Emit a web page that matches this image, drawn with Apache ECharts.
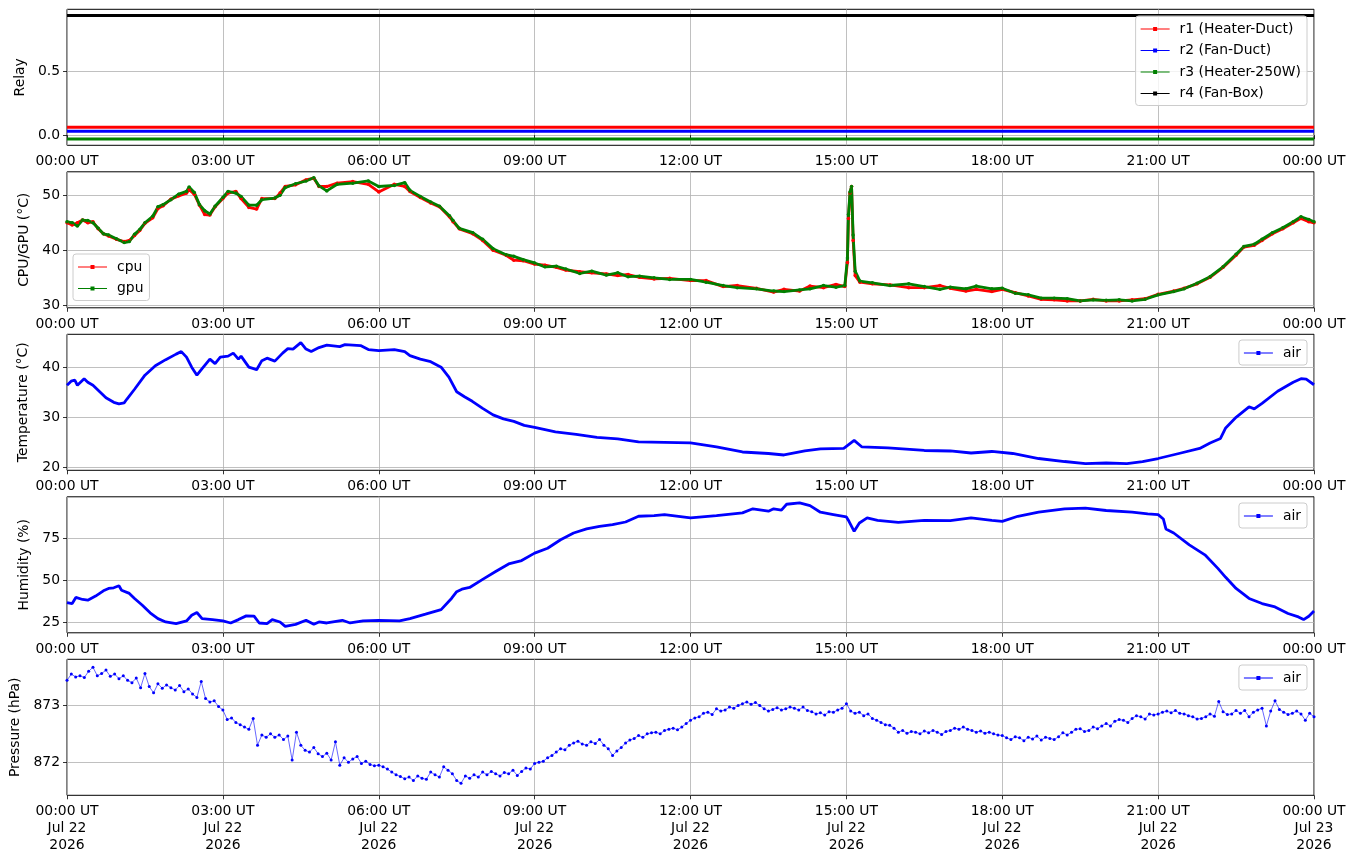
<!DOCTYPE html>
<html>
<head>
<meta charset="utf-8">
<title>Sensor log</title>
<script src="https://cdn.jsdelivr.net/npm/echarts@6/dist/echarts.min.js"></script>
<style>
html, body { margin: 0; padding: 0; background: #fff; }
#chart { width: 1355px; height: 861px; }
</style>
</head>
<body>
<div id="chart"></div>
<script>
// ---- data (hours since 00:00 UT, Jul 22 2026) ----
var relayHours = [0, 24];
var r1 = [0.0625, 0.0625];
var r2 = [0.03125, 0.03125];
var r3 = [-0.03125, -0.03125];
var r4 = [0.9375, 0.9375];

var cpuHours = [0.0,0.1,0.2,0.3,0.4,0.5,0.6,0.7,0.8,0.95,1.1,1.2,1.3,1.4,1.5,1.65,1.75,1.85,2.0,2.15,2.3,2.35,2.45,2.55,2.65,2.75,2.85,3.0,3.1,3.25,3.35,3.5,3.65,3.75,4.0,4.1,4.2,4.4,4.6,4.75,4.85,5.0,5.2,5.5,5.8,6.0,6.3,6.5,6.6,6.8,7.0,7.17,7.36,7.43,7.55,7.81,8.0,8.2,8.45,8.6,8.78,9.0,9.2,9.42,9.6,9.87,10.1,10.38,10.6,10.8,11.02,11.3,11.6,12.0,12.3,12.63,12.9,13.27,13.6,13.8,14.1,14.3,14.56,14.8,14.97,15.02,15.04,15.07,15.1,15.13,15.17,15.26,15.5,15.84,16.2,16.5,16.8,17.0,17.3,17.5,17.8,18.0,18.25,18.5,18.75,19.0,19.25,19.5,19.75,20.0,20.25,20.5,20.75,21.0,21.3,21.5,21.75,22.0,22.25,22.5,22.65,22.85,23.0,23.2,23.4,23.6,23.75,23.9,24.0];
var cpu = [45.0,44.6,45.0,45.5,45.0,45.2,43.9,43.0,42.6,42.0,41.6,41.8,42.7,43.6,44.9,45.9,47.6,48.1,49.3,49.9,50.4,51.0,50.2,48.2,46.5,46.4,47.9,49.4,50.4,50.7,49.4,47.8,47.5,49.4,49.4,50.4,51.6,51.9,52.8,53.1,51.6,51.6,52.2,52.5,52.0,50.6,52.0,51.6,50.7,49.6,48.6,47.9,46.1,45.2,43.9,43.0,41.8,40.0,39.1,38.2,38.1,37.5,37.3,36.9,36.4,36.1,35.9,35.7,35.4,35.6,35.1,34.8,34.9,34.5,34.5,33.4,33.6,33.1,32.4,32.9,32.6,33.5,33.2,33.8,33.4,37.8,45.8,50.4,51.6,41.8,35.4,34.2,33.9,33.7,33.2,33.2,33.6,33.1,32.6,32.9,32.5,32.9,32.3,31.7,31.1,31.0,30.8,30.8,31.1,30.8,30.8,31.0,31.2,32.0,32.6,33.1,33.9,35.1,36.9,39.1,40.6,40.9,41.8,43.0,43.9,45.0,45.8,45.2,45.0];
var gpu = [45.2,45.0,44.4,45.5,45.4,45.0,44.0,43.0,42.8,42.1,41.4,41.6,42.9,43.8,45.0,46.2,47.9,48.3,49.2,50.2,50.7,51.5,50.5,48.3,47.2,46.6,48.0,49.6,50.7,50.4,49.8,48.2,48.2,49.2,49.5,50.0,51.4,52.1,52.6,53.2,51.7,50.8,52.0,52.2,52.6,51.6,51.8,52.3,50.9,49.8,48.8,48.0,46.3,45.4,44.0,43.2,42.0,40.3,39.2,38.9,38.3,37.7,37.0,37.1,36.6,35.8,36.2,35.5,35.9,35.2,35.3,35.0,34.7,34.7,34.2,33.6,33.2,33.0,32.6,32.5,32.8,33.0,33.6,33.3,33.6,38.6,46.5,50.6,51.6,42.8,36.2,34.4,34.1,33.6,33.9,33.4,32.9,33.3,33.0,33.5,33.0,33.1,32.2,31.9,31.3,31.3,31.2,30.8,31.0,30.9,31.0,30.8,31.1,31.9,32.5,33.0,34.0,35.2,37.0,39.3,40.7,41.1,42.0,43.2,44.1,45.2,46.1,45.6,45.2];

var tempHours = [0.0,0.08,0.15,0.2,0.33,0.4,0.5,0.6,0.75,0.9,1.0,1.1,1.15,1.3,1.5,1.7,1.9,2.1,2.2,2.3,2.4,2.5,2.6,2.75,2.85,2.95,3.1,3.2,3.3,3.35,3.5,3.65,3.75,3.85,4.0,4.15,4.25,4.35,4.5,4.6,4.7,4.85,5.0,5.25,5.35,5.5,5.65,5.8,6.0,6.3,6.5,6.6,6.8,7.0,7.2,7.35,7.5,7.65,7.8,8.0,8.2,8.4,8.6,8.8,9.0,9.4,9.8,10.2,10.6,11.0,11.5,12.0,12.5,13.0,13.5,13.8,14.2,14.5,14.95,15.15,15.3,15.8,16.5,17.0,17.4,17.8,18.2,18.7,19.2,19.6,20.0,20.4,20.7,21.0,21.4,21.8,22.0,22.2,22.3,22.5,22.75,22.85,23.0,23.3,23.6,23.75,23.85,24.0];
var tempAir = [36.4,37.2,37.4,36.4,37.7,37.0,36.4,35.4,33.9,33.0,32.7,32.9,33.6,35.6,38.4,40.3,41.5,42.6,43.1,42.0,40.0,38.4,39.7,41.6,40.7,42.0,42.2,42.8,41.6,42.2,40.0,39.5,41.3,41.8,41.2,42.8,43.7,43.6,44.9,43.6,43.1,43.9,44.4,44.1,44.5,44.4,44.3,43.5,43.3,43.5,43.1,42.3,41.6,41.1,40.0,38.0,35.1,34.1,33.2,31.8,30.5,29.7,29.2,28.4,28.0,27.1,26.6,26.0,25.7,25.1,25.0,24.9,24.1,23.1,22.8,22.5,23.3,23.7,23.8,25.4,24.1,23.9,23.4,23.3,22.9,23.2,22.8,21.8,21.2,20.8,20.9,20.8,21.2,21.8,22.8,23.8,24.9,25.8,27.9,30.0,32.1,31.7,32.8,35.2,37.0,37.7,37.6,36.5];

var humHours = [0.0,0.1,0.17,0.3,0.4,0.55,0.7,0.8,0.9,1.0,1.05,1.2,1.3,1.45,1.6,1.75,1.9,2.1,2.3,2.4,2.5,2.6,2.8,3.0,3.15,3.3,3.45,3.6,3.7,3.85,3.95,4.1,4.2,4.4,4.6,4.75,4.85,5.0,5.3,5.45,5.7,6.0,6.4,6.6,6.9,7.2,7.4,7.5,7.6,7.75,8.0,8.25,8.5,8.75,9.0,9.25,9.5,9.75,10.0,10.25,10.5,10.75,11.0,11.3,11.5,12.0,12.5,13.0,13.2,13.5,13.6,13.75,13.85,14.1,14.3,14.5,14.75,15.0,15.05,15.15,15.25,15.4,15.6,16.0,16.5,17.0,17.4,17.8,18.0,18.3,18.7,19.2,19.6,20.0,20.5,20.8,21.0,21.1,21.15,21.3,21.6,21.9,22.15,22.3,22.5,22.75,23.0,23.25,23.5,23.7,23.8,23.9,24.0];
var humAir = [36.9,36.3,39.9,38.7,38.3,40.7,43.8,45.2,45.6,46.8,44.2,42.3,39.3,35.3,30.8,27.4,25.4,24.4,26.0,29.4,31.0,27.4,26.8,26.0,24.8,26.8,29.0,28.8,24.8,24.4,26.8,25.4,22.8,24.0,26.4,24.0,25.4,24.8,26.4,24.8,26.0,26.4,26.0,27.4,30.0,32.7,39.3,43.3,44.8,45.8,50.6,55.2,59.7,61.7,66.1,69.0,74.0,78.0,80.4,81.9,82.9,84.5,87.9,88.3,88.9,86.9,88.3,89.9,92.3,90.9,92.3,91.5,95.0,95.8,94.2,90.3,88.9,87.5,84.9,79.0,83.9,86.9,85.5,84.3,85.5,85.3,86.9,85.5,84.9,87.9,90.3,92.3,92.7,91.3,90.3,89.3,88.9,86.3,80.4,78.0,71.0,65.1,57.1,51.8,45.2,39.3,36.3,34.3,30.4,28.4,26.8,28.8,31.9];

// pressure sampled every 5 minutes
var presMinutes = [
  0,5,10,15,20,25,30,35,40,45,50,55,
  60,65,70,75,80,85,90,95,100,105,110,115,
  120,125,130,135,140,145,150,155,160,165,170,175,
  180,185,190,195,200,205,210,215,220,225,230,235,
  240,245,250,255,260,265,270,275,280,285,290,295,
  300,305,310,315,320,325,330,335,340,345,350,355,
  360,365,370,375,380,385,390,395,400,405,410,415,
  420,425,430,435,440,445,450,455,460,465,470,475,
  480,485,490,495,500,505,510,515,520,525,530,535,
  540,545,550,555,560,565,570,575,580,585,590,595,
  600,605,610,615,620,625,630,635,640,645,650,655,
  660,665,670,675,680,685,690,695,700,705,710,715,
  720,725,730,735,740,745,750,755,760,765,770,775,
  780,785,790,795,800,805,810,815,820,825,830,835,
  840,845,850,855,860,865,870,875,880,885,890,895,
  900,905,910,915,920,925,930,935,940,945,950,955,
  960,965,970,975,980,985,990,995,1000,1005,1010,1015,
  1020,1025,1030,1035,1040,1045,1050,1055,1060,1065,1070,1075,
  1080,1085,1090,1095,1100,1105,1110,1115,1120,1125,1130,1135,
  1140,1145,1150,1155,1160,1165,1170,1175,1180,1185,1190,1195,
  1200,1205,1210,1215,1220,1225,1230,1235,1240,1245,1250,1255,
  1260,1265,1270,1275,1280,1285,1290,1295,1300,1305,1310,1315,
  1320,1325,1330,1335,1340,1345,1350,1355,1360,1365,1370,1375,
  1380,1385,1390,1395,1400,1405,1410,1415,1420,1425,1430,1435,
  1440];
var presAir = [
  873.44,873.55,873.50,873.52,873.49,873.60,873.67,873.52,873.56,873.62,873.51,873.55,
  873.47,873.52,873.44,873.40,873.48,873.31,873.56,873.33,873.22,873.38,873.30,873.36,
  873.31,873.27,873.35,873.24,873.29,873.20,873.14,873.42,873.12,873.06,873.08,872.98,
  872.92,872.75,872.78,872.70,872.66,872.62,872.58,872.77,872.30,872.48,872.44,872.50,
  872.44,872.48,872.40,872.46,872.04,872.53,872.30,872.21,872.18,872.26,872.15,872.10,
  872.16,872.04,872.36,871.95,872.08,872.00,872.06,872.10,871.98,872.02,871.96,871.94,
  871.95,871.92,871.88,871.83,871.78,871.75,871.71,871.74,871.68,871.76,871.72,871.70,
  871.83,871.78,871.74,871.92,871.86,871.80,871.68,871.63,871.76,871.72,871.78,871.74,
  871.83,871.78,871.84,871.80,871.76,871.82,871.80,871.86,871.77,871.84,871.90,871.88,
  871.98,872.00,872.02,872.08,872.12,872.18,872.24,872.22,872.30,872.34,872.37,872.32,
  872.30,872.36,872.33,872.40,872.30,872.24,872.12,872.20,872.26,872.34,872.39,872.42,
  872.47,872.44,872.50,872.52,872.53,872.50,872.56,872.58,872.60,872.57,872.62,872.68,
  872.74,872.78,872.80,872.86,872.88,872.84,872.94,872.90,872.92,872.97,872.95,873.00,
  873.03,873.06,873.02,873.05,873.00,872.94,872.90,872.93,872.96,872.92,872.94,872.97,
  872.95,872.92,872.97,872.91,872.89,872.85,872.87,872.83,872.89,872.88,872.92,872.95,
  873.03,872.90,872.86,872.88,872.82,872.85,872.77,872.74,872.70,872.66,872.65,872.60,
  872.53,872.56,872.51,872.54,872.53,872.50,872.55,872.52,872.56,872.53,872.49,872.54,
  872.56,872.60,872.58,872.62,872.58,872.56,872.53,872.55,872.51,872.53,872.50,872.48,
  872.47,872.43,872.40,872.45,872.43,872.38,872.44,872.41,872.46,872.39,872.44,872.42,
  872.40,872.45,872.52,872.48,872.53,872.58,872.59,872.54,872.56,872.62,872.59,872.64,
  872.68,872.64,872.72,872.75,872.74,872.70,872.77,872.82,872.80,872.76,872.85,872.83,
  872.85,872.88,872.90,872.87,872.91,872.86,872.85,872.82,872.80,872.76,872.77,872.80,
  872.85,872.81,873.07,872.89,872.84,872.85,872.91,872.86,872.91,872.80,872.88,872.92,
  872.95,872.64,872.90,873.08,872.93,872.88,872.84,872.86,872.90,872.85,872.74,872.86,
  872.80];

var relayTicks = [0, 0.5];
var cpuTicks = [30, 40, 50];
var tempTicks = [20, 30, 40];
var humTicks = [25, 50, 75];
var presTicks = [872, 873];

// ---- helpers ----
var FONT = 'DejaVu Sans';
var FS = 13.9;
var GRID_LINE = { color: '#b0b0b0', width: 0.8 };
var LEG_ICON = 'path://M0,1.5L29,1.5L29,2.5L0,2.5Z M12.5,0L16.5,0L16.5,4L12.5,4Z';
var panelTops = [9.3, 171.8, 334.3, 496.8, 659.3];

function pairs(xs, ys, scale) {
    return xs.map(function (x, i) { return [x / (scale || 1), ys[i]]; });
}

function pad2(n) { return (n < 10 ? '0' : '') + n; }

function makeX(idx, withDate) {
    return {
        type: 'value', gridIndex: idx, min: 0, max: 24, interval: 3,
        axisLine: { show: false },
        axisTick: { show: true, length: 4, lineStyle: { color: '#000', width: 0.8 } },
        axisLabel: {
            color: '#000', fontFamily: FONT, fontSize: FS, margin: 8, lineHeight: 17,
            showMinLabel: true, showMaxLabel: true,
            formatter: function (v) {
                var s = pad2(v % 24) + ':00 UT';
                if (withDate) s += '\n' + (v < 24 ? 'Jul 22' : 'Jul 23') + '\n2026';
                return s;
            }
        },
        splitLine: { show: true, lineStyle: GRID_LINE }
    };
}

function makeY(idx, name, min, max, ticks, gap, fmt) {
    return {
        type: 'value', gridIndex: idx, min: min, max: max,
        name: name, nameLocation: 'middle', nameGap: gap,
        nameTextStyle: { color: '#000', fontFamily: FONT, fontSize: FS },
        axisLine: { show: false },
        axisTick: { show: true, length: 4, customValues: ticks, lineStyle: { color: '#000', width: 0.8 } },
        axisLabel: {
            color: '#000', fontFamily: FONT, fontSize: FS, margin: 7, customValues: ticks,
            formatter: fmt || function (v) { return String(v); }
        },
        splitLine: { show: true, lineStyle: GRID_LINE }
    };
}

function legendBox(names, pos) {
    var l = {
        data: names, orient: 'vertical', icon: LEG_ICON,
        itemWidth: 29, itemHeight: 4, itemGap: 7.5,
        padding: [6, 6, 5, 5],
        backgroundColor: 'rgba(255,255,255,0.8)',
        borderColor: '#cccccc', borderWidth: 1, borderRadius: 3,
        selectedMode: false,
        textStyle: { color: '#000', fontFamily: FONT, fontSize: FS, lineHeight: 14, padding: [0, 0, 0, 5] }
    };
    for (var k in pos) l[k] = pos[k];
    return l;
}

function lineSeries(name, color, data, xi, lw, sym) {
    return {
        name: name, type: 'line', xAxisIndex: xi, yAxisIndex: xi,
        data: data, smooth: false,
        symbol: sym ? 'circle' : 'none', symbolSize: sym || 0, showAllSymbol: true,
        itemStyle: { color: color },
        lineStyle: { color: color, width: lw },
        emphasis: { disabled: true }
    };
}

var chart = echarts.init(document.getElementById('chart'), null, { renderer: 'canvas' });

var option = {
    animation: false,
    backgroundColor: '#fff',
    grid: panelTops.map(function (t) {
        return { left: 67, width: 1247, top: t, height: 136, show: true,
                 borderColor: '#000', borderWidth: 1, containLabel: false, outerBoundsMode: 'none' };
    }),
    xAxis: [makeX(0), makeX(1), makeX(2), makeX(3), makeX(4, true)],
    yAxis: [
        makeY(0, 'Relay', -0.0797, 0.986, relayTicks, 35, function (v) { return v.toFixed(1); }),
        makeY(1, 'CPU/GPU (°C)', 29.55, 54.27, cpuTicks, 33),
        makeY(2, 'Temperature (°C)', 19.45, 46.55, tempTicks, 37),
        makeY(3, 'Humidity (%)', 19.0, 99.4, humTicks, 33),
        makeY(4, 'Pressure (hPa)', 871.42, 873.81, presTicks, 41)
    ],
    legend: [
        legendBox(['r1 (Heater-Duct)', 'r2 (Fan-Duct)', 'r3 (Heater-250W)', 'r4 (Fan-Box)'], { right: 48, top: 16 }),
        legendBox(['cpu', 'gpu'], { left: 73, top: 254 }),
        legendBox(['air'], { right: 48, top: 340 }),
        legendBox(['air'], { right: 48, top: 503 }),
        legendBox(['air'], { right: 48, top: 665 })
    ],
    series: [
        lineSeries('r1 (Heater-Duct)', '#ff0000', pairs(relayHours, r1), 0, 3, 0),
        lineSeries('r2 (Fan-Duct)', '#0000ff', pairs(relayHours, r2), 0, 3, 0),
        lineSeries('r3 (Heater-250W)', '#008000', pairs(relayHours, r3), 0, 3, 0),
        lineSeries('r4 (Fan-Box)', '#000000', pairs(relayHours, r4), 0, 3, 0),
        lineSeries('cpu', '#ff0000', pairs(cpuHours, cpu), 1, 2.8, 3.5),
        lineSeries('gpu', '#008000', pairs(cpuHours, gpu), 1, 2.8, 3.5),
        lineSeries('air', '#0000ff', pairs(tempHours, tempAir), 2, 2.8, 0),
        lineSeries('air', '#0000ff', pairs(humHours, humAir), 3, 2.8, 0),
        lineSeries('air', '#0000ff', pairs(presMinutes, presAir, 60), 4, 0.6, 3)
    ]
};

chart.setOption(option);
</script>
</body>
</html>
